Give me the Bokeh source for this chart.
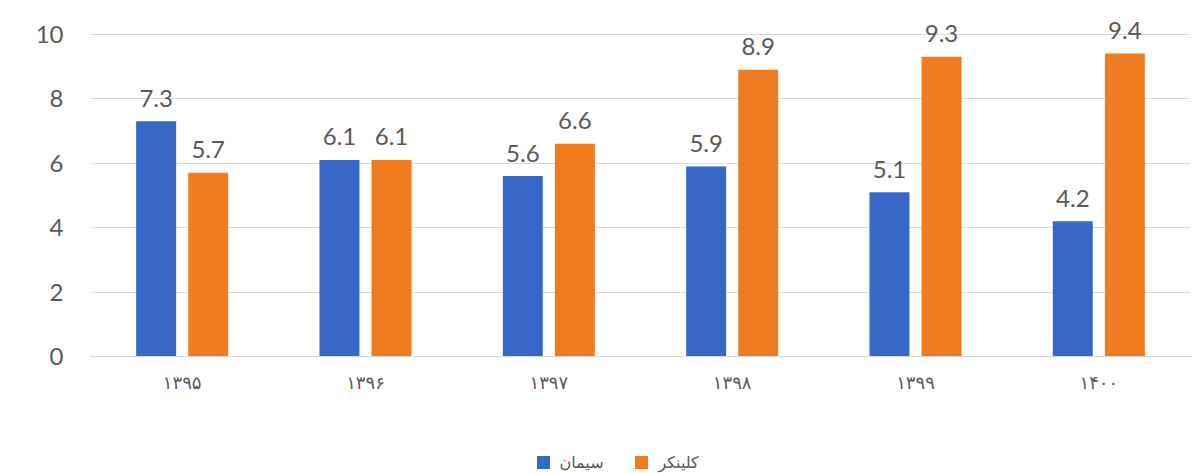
from bokeh.plotting import figure
from bokeh.layouts import column
from bokeh.models import ColumnDataSource, FactorRange, Range1d, FixedTicker
from bokeh.transform import dodge
from bokeh.core.properties import value
from bokeh.embed import file_html
from bokeh.resources import INLINE

years = ["۱۳۹۵", "۱۳۹۶", "۱۳۹۷", "۱۳۹۸", "۱۳۹۹", "۱۴۰۰"]
cement = [7.3, 6.1, 5.6, 5.9, 5.1, 4.2]
clinker = [5.7, 6.1, 6.6, 8.9, 9.3, 9.4]
series_names = ["سیمان", "کلینکر"]
y_ticks = [0, 2, 4, 6, 8, 10]

BLUE = "#3768C8"
ORANGE = "#F07C21"
GREY = "#595959"

src = ColumnDataSource(dict(
    year=years,
    cement=cement,
    clinker=clinker,
    cement_lbl=[f"{v:.1f}" for v in cement],
    clinker_lbl=[f"{v:.1f}" for v in clinker],
))

p = figure(
    x_range=FactorRange(*years),
    y_range=Range1d(0, 10.8),
    frame_width=1100, frame_height=348,
    output_backend="svg", toolbar_location=None,
    min_border_left=90, min_border_right=2, min_border_top=8, min_border_bottom=64,
)
p.outline_line_color = None
p.background_fill_color = "white"

off = 0.142
bw = 0.218
p.vbar(x=dodge("year", -off, range=p.x_range), top="cement", width=bw,
       source=src, fill_color=BLUE, line_color=None)
p.vbar(x=dodge("year", off, range=p.x_range), top="clinker", width=bw,
       source=src, fill_color=ORANGE, line_color=None)

common = dict(source=src, text_font=value("Lato"), text_font_size="24px",
              text_color=GREY, text_align="center", text_baseline="alphabetic",
              y_offset=-23)
p.text(x=dodge("year", -off, range=p.x_range), y="cement", text="cement_lbl", **common)
p.text(x=dodge("year", off, range=p.x_range), y="clinker", text="clinker_lbl", **common)

# axes
p.yaxis.ticker = FixedTicker(ticks=y_ticks)
p.yaxis.axis_line_color = None
p.yaxis.major_tick_line_color = None
p.yaxis.minor_tick_line_color = None
p.yaxis.major_tick_out = 0
p.yaxis.major_label_standoff = 27
p.yaxis.major_label_text_font = "Lato"
p.yaxis.major_label_text_font_size = "24px"
p.yaxis.major_label_text_color = GREY

p.xaxis.axis_line_color = "#d4d4d4"
p.xaxis.major_tick_line_color = None
p.xaxis.minor_tick_line_color = None
p.xaxis.major_tick_out = 0
p.xaxis.major_label_standoff = 15
p.xaxis.major_label_text_font = "DejaVu Sans"
p.xaxis.major_label_text_font_size = "18px"
p.xaxis.major_label_text_color = GREY

p.xgrid.grid_line_color = None
p.ygrid.grid_line_color = "#d9d9d9"
p.ygrid.grid_line_width = 1

# legend strip below the chart (its frame is aligned with the chart frame, 90..1190 px)
LG_H = 53
lg = figure(width=1192, height=LG_H, x_range=Range1d(90, 1190), y_range=Range1d(0, LG_H),
            output_backend="svg", toolbar_location=None,
            min_border_left=0, min_border_right=0, min_border_top=0, min_border_bottom=0)
lg.axis.visible = False
lg.grid.visible = False
lg.outline_line_color = None
leg_y = 11
lg.scatter(x=[543, 641], y=[leg_y, leg_y], marker="square", size=13,
           fill_color=[BLUE, ORANGE], line_color=None)
lg.text(x=[581, 678], y=[leg_y, leg_y], text=series_names,
        text_font=value("DejaVu Sans"), text_font_size="16px", text_color=GREY,
        text_align="center", text_baseline="middle")

open("out.html", "w").write(file_html(column(p, lg, spacing=0), INLINE))
